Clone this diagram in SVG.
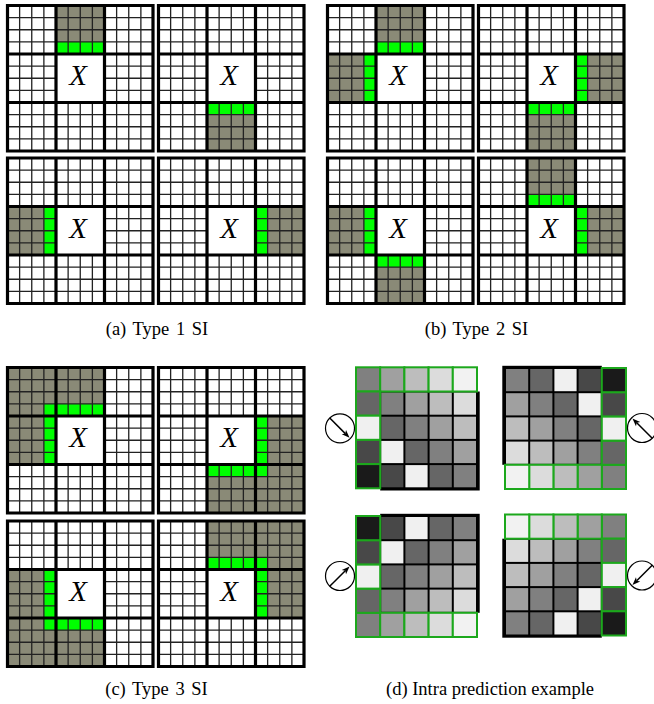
<svg xmlns="http://www.w3.org/2000/svg" xmlns:xlink="http://www.w3.org/1999/xlink" width="654" height="704" viewBox="0 0 654 704">
<style>
.bg{fill:#fff}
.sh{fill:#8a8a77}
.gr{fill:#00ff00}
.thin{fill:none;stroke:#222;stroke-width:1.3}
.thick{fill:none;stroke:#000;stroke-width:3.2;stroke-linecap:square}
.x{font-family:"Liberation Serif","Times New Roman",serif;font-style:italic;font-size:29px;text-anchor:middle;fill:#000}
.cap{font-family:"Liberation Serif","Times New Roman",serif;font-size:18.5px;text-anchor:middle;fill:#000}
.ref{stroke:#1ca81c;stroke-width:2}
.circ{fill:#fff;stroke:#000;stroke-width:1.2}
.arr{fill:none;stroke:#000;stroke-width:1.5}
</style>
<defs>
<path id="grid8" class="thin" d="M12.125 0V145.5M24.25 0V145.5M36.375 0V145.5M109.125 0V145.5M121.25 0V145.5M133.375 0V145.5M60.625 0V48.5M72.75 0V48.5M84.875 0V48.5M60.625 97V145.5M72.75 97V145.5M84.875 97V145.5M0 12.125H145.5M0 24.25H145.5M0 36.375H145.5M0 109.125H145.5M0 121.25H145.5M0 133.375H145.5M0 60.625H48.5M0 72.75H48.5M0 84.875H48.5M97 60.625H145.5M97 72.75H145.5M97 84.875H145.5"/>
<path id="frame" class="thick" d="M0 0H145.5V145.5H0ZM48.5 0V145.5M97 0V145.5M0 48.5H145.5M0 97H145.5"/>
<g id="dunit">
<rect x="24.2" y="24.2" width="99.5" height="99" fill="#000"/>
<rect x="25.2" y="25.2" width="22.2" height="22.2" fill="#808080"/>
<rect x="49.4" y="25.2" width="22.2" height="22.2" fill="#a0a0a0"/>
<rect x="73.6" y="25.2" width="22.2" height="22.2" fill="#bdbdbd"/>
<rect x="97.8" y="25.2" width="22.2" height="22.2" fill="#dcdcdc"/>
<rect x="25.2" y="49.4" width="22.2" height="22.2" fill="#666666"/>
<rect x="49.4" y="49.4" width="22.2" height="22.2" fill="#808080"/>
<rect x="73.6" y="49.4" width="22.2" height="22.2" fill="#a0a0a0"/>
<rect x="97.8" y="49.4" width="22.2" height="22.2" fill="#bdbdbd"/>
<rect x="25.2" y="73.6" width="22.2" height="22.2" fill="#f0f0f0"/>
<rect x="49.4" y="73.6" width="22.2" height="22.2" fill="#666666"/>
<rect x="73.6" y="73.6" width="22.2" height="22.2" fill="#808080"/>
<rect x="97.8" y="73.6" width="22.2" height="22.2" fill="#a0a0a0"/>
<rect x="25.2" y="97.8" width="22.2" height="22.2" fill="#484848"/>
<rect x="49.4" y="97.8" width="22.2" height="22.2" fill="#f0f0f0"/>
<rect x="73.6" y="97.8" width="22.2" height="22.2" fill="#666666"/>
<rect x="97.8" y="97.8" width="22.2" height="22.2" fill="#808080"/>
<rect class="ref" x="0" y="0" width="24.2" height="24.2" fill="#808080"/>
<rect class="ref" x="24.2" y="0" width="24.2" height="24.2" fill="#a0a0a0"/>
<rect class="ref" x="48.4" y="0" width="24.2" height="24.2" fill="#bdbdbd"/>
<rect class="ref" x="72.6" y="0" width="24.2" height="24.2" fill="#dcdcdc"/>
<rect class="ref" x="96.8" y="0" width="24.2" height="24.2" fill="#f2f2f2"/>
<rect class="ref" x="0" y="24.2" width="24.2" height="24.2" fill="#666666"/>
<rect class="ref" x="0" y="48.4" width="24.2" height="24.2" fill="#f0f0f0"/>
<rect class="ref" x="0" y="72.6" width="24.2" height="24.2" fill="#484848"/>
<rect class="ref" x="0" y="96.8" width="24.2" height="24.2" fill="#1a1a1a"/>
<circle class="circ" cx="-16" cy="61" r="14.5"/>
<path class="arr" d="M-26.25 50.75L-10.7 66.3"/>
<polygon points="-6.45,70.55 -9.98,62.78 -10.7,66.3 -14.22,67.02" fill="#000"/>
</g>
</defs>

<g id="a1" transform="translate(7.5,5.5)">
<rect class="bg" width="145.5" height="145.5"/>
<rect class="sh" x="48.5" y="0" width="48.5" height="48.5"/>
<rect class="gr" x="48.5" y="36.375" width="48.5" height="12.125"/>
<use href="#grid8"/><use href="#frame"/>
<text class="x" x="70.5" y="79.5">X</text>
</g>
<g id="a2" transform="translate(158.5,5.5)">
<rect class="bg" width="145.5" height="145.5"/>
<rect class="sh" x="48.5" y="97" width="48.5" height="48.5"/>
<rect class="gr" x="48.5" y="97" width="48.5" height="12.125"/>
<use href="#grid8"/><use href="#frame"/>
<text class="x" x="70.5" y="79.5">X</text>
</g>
<g id="a3" transform="translate(7.5,158)">
<rect class="bg" width="145.5" height="145.5"/>
<rect class="sh" x="0" y="48.5" width="48.5" height="48.5"/>
<rect class="gr" x="36.375" y="48.5" width="12.125" height="48.5"/>
<use href="#grid8"/><use href="#frame"/>
<text class="x" x="70.5" y="79.5">X</text>
</g>
<g id="a4" transform="translate(158.5,158)">
<rect class="bg" width="145.5" height="145.5"/>
<rect class="sh" x="97" y="48.5" width="48.5" height="48.5"/>
<rect class="gr" x="97" y="48.5" width="12.125" height="48.5"/>
<use href="#grid8"/><use href="#frame"/>
<text class="x" x="70.5" y="79.5">X</text>
</g>

<g id="b1" transform="translate(327.5,5.5)">
<rect class="bg" width="145.5" height="145.5"/>
<rect class="sh" x="48.5" y="0" width="48.5" height="48.5"/>
<rect class="sh" x="0" y="48.5" width="48.5" height="48.5"/>
<rect class="gr" x="48.5" y="36.375" width="48.5" height="12.125"/>
<rect class="gr" x="36.375" y="48.5" width="12.125" height="48.5"/>
<use href="#grid8"/><use href="#frame"/>
<text class="x" x="70.5" y="79.5">X</text>
</g>
<g id="b2" transform="translate(478.5,5.5)">
<rect class="bg" width="145.5" height="145.5"/>
<rect class="sh" x="97" y="48.5" width="48.5" height="48.5"/>
<rect class="sh" x="48.5" y="97" width="48.5" height="48.5"/>
<rect class="gr" x="97" y="48.5" width="12.125" height="48.5"/>
<rect class="gr" x="48.5" y="97" width="48.5" height="12.125"/>
<use href="#grid8"/><use href="#frame"/>
<text class="x" x="70.5" y="79.5">X</text>
</g>
<g id="b3" transform="translate(327.5,158)">
<rect class="bg" width="145.5" height="145.5"/>
<rect class="sh" x="0" y="48.5" width="48.5" height="48.5"/>
<rect class="sh" x="48.5" y="97" width="48.5" height="48.5"/>
<rect class="gr" x="36.375" y="48.5" width="12.125" height="48.5"/>
<rect class="gr" x="48.5" y="97" width="48.5" height="12.125"/>
<use href="#grid8"/><use href="#frame"/>
<text class="x" x="70.5" y="79.5">X</text>
</g>
<g id="b4" transform="translate(478.5,158)">
<rect class="bg" width="145.5" height="145.5"/>
<rect class="sh" x="48.5" y="0" width="48.5" height="48.5"/>
<rect class="sh" x="97" y="48.5" width="48.5" height="48.5"/>
<rect class="gr" x="48.5" y="36.375" width="48.5" height="12.125"/>
<rect class="gr" x="97" y="48.5" width="12.125" height="48.5"/>
<use href="#grid8"/><use href="#frame"/>
<text class="x" x="70.5" y="79.5">X</text>
</g>

<g id="c1" transform="translate(7.5,367.5)">
<rect class="bg" width="145.5" height="145.5"/>
<rect class="sh" x="0" y="0" width="97" height="48.5"/>
<rect class="sh" x="0" y="48.5" width="48.5" height="48.5"/>
<rect class="gr" x="36.375" y="36.375" width="60.625" height="12.125"/>
<rect class="gr" x="36.375" y="48.5" width="12.125" height="48.5"/>
<use href="#grid8"/><use href="#frame"/>
<text class="x" x="70.5" y="79.5">X</text>
</g>
<g id="c2" transform="translate(158.5,367.5)">
<rect class="bg" width="145.5" height="145.5"/>
<rect class="sh" x="97" y="48.5" width="48.5" height="97"/>
<rect class="sh" x="48.5" y="97" width="48.5" height="48.5"/>
<rect class="gr" x="97" y="48.5" width="12.125" height="60.625"/>
<rect class="gr" x="48.5" y="97" width="48.5" height="12.125"/>
<use href="#grid8"/><use href="#frame"/>
<text class="x" x="70.5" y="79.5">X</text>
</g>
<g id="c3" transform="translate(7.5,521)">
<rect class="bg" width="145.5" height="145.5"/>
<rect class="sh" x="0" y="48.5" width="48.5" height="97"/>
<rect class="sh" x="48.5" y="97" width="48.5" height="48.5"/>
<rect class="gr" x="36.375" y="48.5" width="12.125" height="60.625"/>
<rect class="gr" x="48.5" y="97" width="48.5" height="12.125"/>
<use href="#grid8"/><use href="#frame"/>
<text class="x" x="70.5" y="79.5">X</text>
</g>
<g id="c4" transform="translate(158.5,521)">
<rect class="bg" width="145.5" height="145.5"/>
<rect class="sh" x="48.5" y="0" width="97" height="48.5"/>
<rect class="sh" x="97" y="48.5" width="48.5" height="48.5"/>
<rect class="gr" x="48.5" y="36.375" width="60.625" height="12.125"/>
<rect class="gr" x="97" y="48.5" width="12.125" height="48.5"/>
<use href="#grid8"/><use href="#frame"/>
<text class="x" x="70.5" y="79.5">X</text>
</g>

<g id="d1" transform="translate(356,367.3)"><use href="#dunit"/></g>
<g id="d2" transform="translate(626,489) rotate(180)"><use href="#dunit"/></g>
<g id="d3" transform="translate(356,637) scale(1,-1)"><use href="#dunit"/></g>
<g id="d4" transform="translate(626,514.5) scale(-1,1)"><use href="#dunit"/></g>

<g id="captions">
<text class="cap" x="157" y="334.5" word-spacing="2">(a) Type 1 SI</text>
<text class="cap" x="476.5" y="334.5" word-spacing="2">(b) Type 2 SI</text>
<text class="cap" x="156.5" y="695" word-spacing="2">(c) Type 3 SI</text>
<text class="cap" x="490" y="695">(d) Intra prediction example</text>
</g>
</svg>
